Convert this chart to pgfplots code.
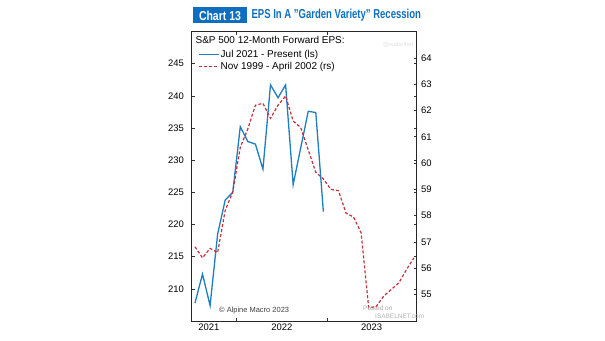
\documentclass[border=0pt]{standalone}
\usepackage{pgfplots}
\pgfplotsset{compat=1.18}
\usepackage{fontspec}
\setmainfont{Liberation Sans}
\setsansfont{Liberation Sans}
\definecolor{bl}{HTML}{1F7EC1}
\definecolor{rd}{HTML}{C0303A}
\definecolor{tb}{HTML}{0E6FC0}
\pgfplotstableread{
i v
0 207.8
1 212.3
2 207.4
3 218.5
4 223.8
5 225.0
6 235.2
7 232.9
8 232.5
9 228.6
10 241.7
11 239.7
12 241.7
13 226.2
14 231.9
15 237.6
16 237.4
17 222.0
}\bluedata
\pgfplotstableread{
i v
0 56.82
1 56.40
2 56.76
3 56.60
4 58.20
5 58.90
6 60.60
7 61.30
8 62.20
9 62.27
10 61.70
11 62.20
12 62.55
13 61.60
14 61.35
15 60.50
16 59.65
17 59.40
18 59.00
19 58.95
20 58.10
21 57.95
22 57.35
23 54.50
24 54.55
25 54.95
26 55.20
27 55.45
28 55.95
29 56.40
}\reddata
\begin{document}
\begin{tikzpicture}
\useasboundingbox (0,0) rectangle (605bp,341bp);
\begin{axis}[
  at={(191.5bp,20bp)}, anchor=south west,
  width=225.2bp, height=289.5bp, scale only axis,
  xmin=-0.46, xmax=29.36, ymin=205, ymax=250,
  ytick={210,215,...,245},
  xtick={5.5,17.5}, xticklabels={},
  extra x ticks={1.85,11.5,23.4}, extra x tick labels={2021,2022,2023},
  extra x tick style={major tick length=0pt},
  tick align=inside, major tick length=3bp,
  tick style={black!80, line width=0.6bp},
  ticklabel style={font=\fontsize{9.5}{11}\selectfont},
  yticklabel style={xshift=-4bp},
  xticklabel style={yshift=1bp},
  /pgf/number format/assume math mode=true,
  axis line style={black!85, line width=0.8bp},
  legend style={at={(0.029,0.948)}, anchor=north west, draw=none, fill=none,
    font=\fontsize{10}{11.5}\selectfont, inner sep=0pt, row sep=0.5bp, yshift=-2.5bp,
    nodes={inner sep=1.2bp}},
  legend cell align=left,
  legend image code/.code={\draw[#1] (0bp,0bp) -- (20bp,0bp);},
  clip=false,
]
\addplot[bl, line width=1.3bp] table[x=i,y=v]{\bluedata};
\addlegendentry{Jul 2021 - Present (ls)}
\addlegendimage{rd, line width=1.2bp, dash pattern=on 3bp off 2bp}
\addlegendentry{Nov 1999 - April 2002 (rs)}
\end{axis}
\begin{axis}[
  at={(191.5bp,20bp)}, anchor=south west,
  width=225.2bp, height=289.5bp, scale only axis,
  xmin=-0.46, xmax=29.36, ymin=54, ymax=65,
  axis x line=none, axis y line*=right,
  ytick={55,56,...,64},
  tick align=inside, major tick length=3bp,
  tick style={black!80, line width=0.6bp},
  ticklabel style={font=\fontsize{9.5}{11}\selectfont},
  yticklabel style={xshift=1bp},
  /pgf/number format/assume math mode=true,
  axis line style={black!85, line width=0.8bp},
  y axis line style={-},
]
\addplot[rd, line width=1.2bp, dash pattern=on 3bp off 2bp] table[x=i,y=v]{\reddata};
\end{axis}
% header texts
\node[anchor=base west, inner sep=0pt, font=\fontsize{10}{12}\selectfont] at (195.5bp,297.5bp) {S\&P 500 12-Month Forward EPS:};
\fill[tb] (193bp,317.5bp) rectangle (247bp,333.5bp);
\node[anchor=center, inner sep=0pt, text=white, font=\bfseries\fontsize{13}{14}\selectfont, xscale=0.81] at (220bp,325.5bp) {Chart 13};
\node[anchor=west, inner sep=0pt, text=tb, font=\bfseries\fontsize{13}{14}\selectfont, xscale=0.735] at (251.5bp,325.5bp) {EPS In A \symbol{34}Garden Variety\symbol{34} Recession};
\node[anchor=west, inner sep=0pt, text=black!75, font=\fontsize{7.5}{9}\selectfont] at (219bp,30.3bp) {© Alpine Macro 2023};
\node[anchor=west, inner sep=0pt, text=black!35, font=\fontsize{6.5}{8}\selectfont] at (363bp,33bp) {Posted on};
\node[anchor=west, inner sep=0pt, text=black!30, font=\fontsize{6.5}{8}\selectfont] at (375bp,24.5bp) {ISABELNET.com};
\node[anchor=west, inner sep=0pt, text=black!12, font=\fontsize{6}{7}\selectfont] at (383bp,296bp) {@isabelnet};
\end{tikzpicture}
\end{document}
